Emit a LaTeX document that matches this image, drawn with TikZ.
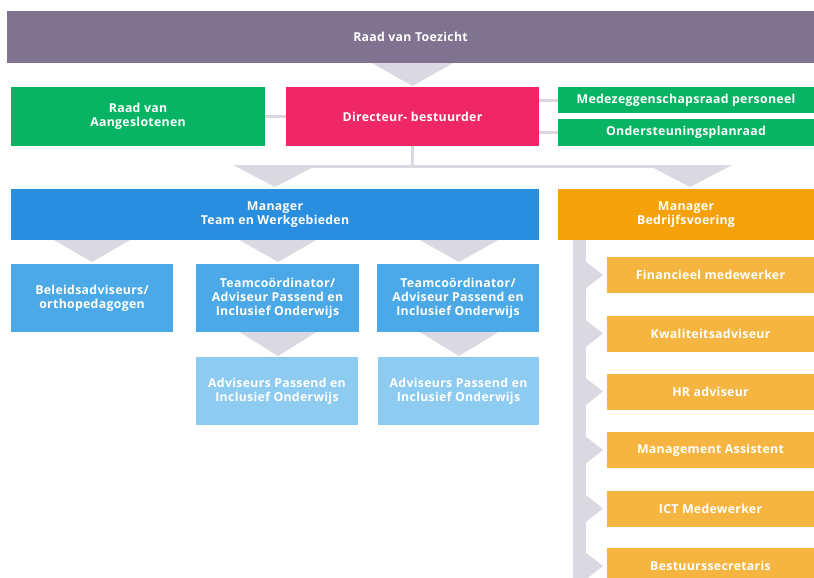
\documentclass[tikz,border=0pt]{standalone}
\usepackage{fontspec}
\setmainfont{Open Sans}[LetterSpace=2.5]
\definecolor{cpurple}{HTML}{807390}
\definecolor{cgreen}{HTML}{07B463}
\definecolor{cpink}{HTML}{EF2766}
\definecolor{cblue}{HTML}{2A8EE0}
\definecolor{cbluemid}{HTML}{4CA9E7}
\definecolor{cbluelight}{HTML}{8DCBF0}
\definecolor{corange}{HTML}{F5A10A}
\definecolor{corangelight}{HTML}{F5B540}
\definecolor{cgray}{HTML}{DAD8E0}
\begin{document}
\begin{tikzpicture}[x=1pt,y=-1pt,
  box/.style={inner sep=0pt, text=white, align=center,
    font=\bfseries\fontsize{12.3}{14}\selectfont},
  wire/.style={draw=cgray, line width=3pt},
  tri/.style={fill=cgray, draw=none}]
\clip (0,0) rectangle (814,578);
\fill[white] (0,0) rectangle (814,578);
% triangles / connectors first (behind boxes)
\fill[tri] (370,62) -- (455,62) -- (412.5,86) -- cycle;
\fill[tri] (233,165) -- (317,165) -- (275,187) -- cycle;
\fill[tri] (648,165) -- (732,165) -- (690,187) -- cycle;
\fill[tri] (52,239) -- (132,239) -- (92,262) -- cycle;
\fill[tri] (238,239) -- (318,239) -- (278,262) -- cycle;
\fill[tri] (418,239) -- (500,239) -- (459,262) -- cycle;
\fill[tri] (238,331) -- (318,331) -- (278,356) -- cycle;
\fill[tri] (418,331) -- (500,331) -- (459,356) -- cycle;
\fill[tri] (573,239) rectangle (586,578);
\foreach \yc in {275,333.5,391.5,450,508.5,566}{
  \fill[tri] (585,\yc-14) -- (603,\yc) -- (585,\yc+14) -- cycle;
}
% boxes
\node[box, fill=cpurple, minimum width=807pt, minimum height=52pt] (rvt) at (410.5,37) {Raad van Toezicht};
\node[box, fill=cgreen, minimum width=254pt, minimum height=59pt] (rva) at (138,116.5) {Raad van\\Aangeslotenen};
\node[box, fill=cpink, minimum width=253pt, minimum height=59pt] (dir) at (412.5,116.5) {Directeur- bestuurder};
\node[box, fill=cgreen, minimum width=256pt, minimum height=26pt] (mzr) at (686,100) {Medezeggenschapsraad personeel};
\node[box, fill=cgreen, minimum width=256pt, minimum height=27pt] (opr) at (686,132.5) {Ondersteuningsplanraad};
\node[box, fill=cblue, minimum width=528pt, minimum height=51pt] (mtw) at (275,214.5) {Manager\\Team en Werkgebieden};
\node[box, fill=corange, minimum width=256pt, minimum height=51pt] (mbv) at (686,214.5) {Manager\\Bedrijfsvoering};
\node[box, fill=cbluemid, minimum width=162pt, minimum height=68pt] (bel) at (92,298) {Beleidsadviseurs/\\orthopedagogen};
\node[box, fill=cbluemid, minimum width=163pt, minimum height=68pt] (tc1) at (277.5,298) {Teamcoördinator/\\Adviseur Passend en\\Inclusief Onderwijs};
\node[box, fill=cbluemid, minimum width=162pt, minimum height=68pt] (tc2) at (458,298) {Teamcoördinator/\\Adviseur Passend en\\Inclusief Onderwijs};
\node[box, fill=cbluelight, minimum width=162pt, minimum height=68pt] (ap1) at (277,391) {Adviseurs Passend en\\Inclusief Onderwijs};
\node[box, fill=cbluelight, minimum width=161pt, minimum height=68pt] (ap2) at (458.5,391) {Adviseurs Passend en\\Inclusief Onderwijs};
\foreach \nm/\yc/\tx in {fin/275/Financieel medewerker, kwa/333.5/Kwaliteitsadviseur, hra/391.5/HR adviseur, mas/450/Management Assistent, ict/508.5/ICT Medewerker, bss/566/Bestuurssecretaris}{
  \node[box, fill=corangelight, minimum width=207pt, minimum height=36pt] (\nm) at (710.5,\yc) {\tx};
}
% connectors
\draw[wire] (rva.east) -- (dir.west);
\draw[wire] (dir.east |- mzr.west) -- (mzr.west);
\draw[wire] (dir.east |- opr.west) -- (opr.west);
\coordinate (hub) at (412.5,166);
\draw[wire] (dir.south) -- (hub);
\draw[wire] (hub -| mtw.south) -- (hub -| 690,0);
\end{tikzpicture}
\end{document}
